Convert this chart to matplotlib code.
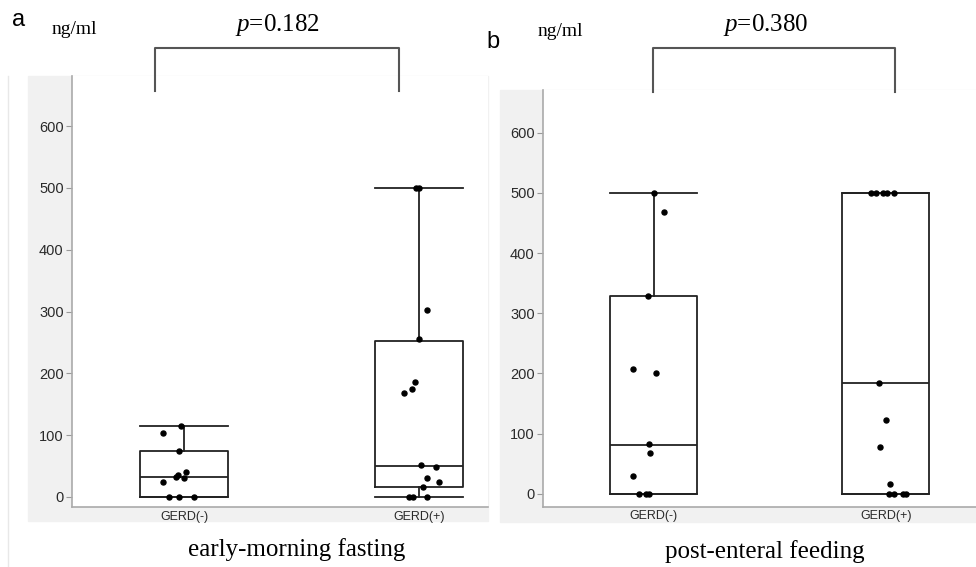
import matplotlib
matplotlib.use("Agg")
import matplotlib.pyplot as plt
from matplotlib.patches import Rectangle
from matplotlib.lines import Line2D

plt.rcParams['mathtext.fontset'] = 'custom'
plt.rcParams['mathtext.it'] = 'Liberation Serif:italic'
plt.rcParams['mathtext.rm'] = 'Liberation Serif'

W, H = 976, 567

groups = ['GERD(-)', 'GERD(+)']
yticks = [0, 100, 200, 300, 400, 500, 600]

# panel a: early-morning fasting (ng/ml)
fast_neg = [103, 115, 74, 41, 35, 33, 31, 25, 0, 0, 0]
fast_pos = [500, 500, 302, 255, 186, 175, 168, 51, 49, 31, 25, 16, 0, 0, 0]
fast_neg_jit = [-0.089, -0.014, -0.020, 0.009, -0.027, -0.035, 0.0, -0.088, -0.064, -0.020, 0.044]
fast_pos_jit = [-0.013, 0.001, 0.033, 0.0, -0.017, -0.030, -0.065, 0.010, 0.074, 0.033, 0.085,
                0.016, -0.044, -0.027, 0.034]
fast_box = [dict(whislo=0, q1=0, med=33, q3=74, whishi=115),
            dict(whislo=0, q1=16, med=50, q3=253, whishi=500)]
fast_p = '0.182'

# panel b: post-enteral feeding (ng/ml)
feed_neg = [500, 469, 329, 207, 200, 82, 67, 29, 0, 0, 0]
feed_pos = [500, 500, 500, 500, 500, 184, 123, 78, 16, 0, 0, 0, 0]
feed_neg_jit = [0.0, 0.044, -0.027, -0.092, 0.007, -0.020, -0.016, -0.088, -0.065, -0.036, -0.023]
feed_pos_jit = [-0.065, -0.043, -0.012, 0.003, 0.036, -0.029, 0.001, -0.025, 0.017, 0.013,
                0.036, 0.075, 0.085]
feed_box = [dict(whislo=0, q1=0, med=81, q3=328, whishi=500),
            dict(whislo=0, q1=0, med=184, q3=500, whishi=500)]
feed_p = '0.380'

SANS = ['Liberation Sans', 'DejaVu Sans']
SERIF = ['Liberation Serif', 'DejaVu Serif']


def fx(x):
    return x / W


def fy(y):
    return 1 - y / H


def panel(fig, box_px, gray_px, ylim, xlim, neg, pos, neg_jit, pos_jit, stats):
    l, t, r, b = box_px
    # light gray strip behind tick labels (JMP style)
    gl, gt, gr, gb = gray_px
    fig.patches.append(Rectangle((fx(gl), fy(gb)), fx(gr - gl), (gb - gt) / H,
                                 transform=fig.transFigure, color='#f1f1f1', zorder=-1))
    ax = fig.add_axes([fx(l), fy(b), fx(r - l), (b - t) / H])
    ax.set_facecolor('white')
    for st in stats:
        st['fliers'] = []
    ax.bxp(stats, positions=[1, 2], widths=0.375, capwidths=0.375, showfliers=False,
           boxprops=dict(color='#222222', linewidth=1.3),
           whiskerprops=dict(color='#222222', linewidth=1.3),
           capprops=dict(color='#222222', linewidth=1.3),
           medianprops=dict(color='#222222', linewidth=1.3))
    ax.plot([1 + j for j in neg_jit], neg, 'o', color='black', ms=3.6, zorder=5)
    ax.plot([2 + j for j in pos_jit], pos, 'o', color='black', ms=3.6, zorder=5)
    ax.set_ylim(*ylim)
    ax.set_xlim(*xlim)
    ax.set_yticks(yticks)
    ax.set_xticks([1, 2])
    ax.set_xticklabels(groups, family=SANS, fontsize=9, color='#2a2a2a')
    ax.set_yticklabels([str(v) for v in yticks], family=SANS, fontsize=10.5, color='#2a2a2a')
    for s in ['top', 'right']:
        ax.spines[s].set_visible(False)
    for s in ['left', 'bottom']:
        ax.spines[s].set_color('#aaaaaa')
        ax.spines[s].set_linewidth(1.2)
    ax.tick_params(axis='y', length=4.5, width=0.8, color='#999999', pad=1.5)
    ax.tick_params(axis='x', length=0, pad=2.5)
    return ax


fig = plt.figure(figsize=(W / 100, H / 100), dpi=100)

# faint frame of panel a
fig.add_artist(Line2D([fx(8), fx(8)], [fy(76), 0], transform=fig.transFigure,
                      color='#e8e8e8', lw=1))

panel(fig, (72, 76, 488, 507.3), (28, 76, 488, 521), (-16.7, 681), (0.523, 2.294),
      fast_neg, fast_pos, fast_neg_jit, fast_pos_jit, fast_box)
panel(fig, (543, 90, 976, 506.7), (500, 90, 976, 522), (-21.6, 671), (0.522, 2.388),
      feed_neg, feed_pos, feed_neg_jit, feed_pos_jit, feed_box)

# significance brackets
for (x0, x1, ytop, ybot) in [(155, 399, 48, 91), (653, 895, 48, 92)]:
    fig.add_artist(Line2D([fx(x0), fx(x0), fx(x1), fx(x1)],
                          [fy(ybot), fy(ytop), fy(ytop), fy(ybot)],
                          transform=fig.transFigure, color='#555555', lw=1.5))

for (x, y, p) in [(277, 25, fast_p), (766, 25, feed_p)]:
    fig.text(fx(x), fy(y), r'$\it{p}$=' + p, family=SERIF, fontsize=18,
             ha='center', va='center', color='black')

fig.text(fx(19), fy(20), 'a', family=SANS, fontsize=17, ha='center', va='center')
fig.text(fx(493), fy(42), 'b', family=SANS, fontsize=17, ha='center', va='center')
fig.text(fx(74), fy(30), 'ng/ml', family=SERIF, fontsize=14, ha='center', va='center')
fig.text(fx(560), fy(32), 'ng/ml', family=SERIF, fontsize=14, ha='center', va='center')

fig.text(fx(297), fy(550), 'early-morning fasting', family=SERIF, fontsize=18,
         ha='center', va='center')
fig.text(fx(765), fy(552), 'post-enteral feeding', family=SERIF, fontsize=18,
         ha='center', va='center')

fig.savefig('out.png', dpi=100)
